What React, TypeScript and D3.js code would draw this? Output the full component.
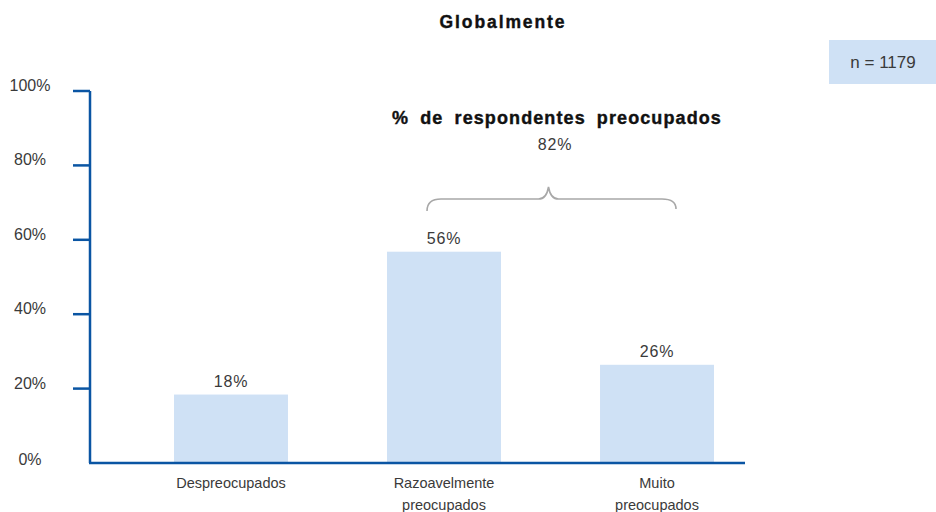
import React from "react";
import * as d3 from "d3";

const categories = ["Despreocupados", "Razoavelmente\npreocupados", "Muito\npreocupados"];
const values = [18.4, 56.8, 26.4];
const valueLabels = ["18%", "56%", "26%"];
const yTicks = [0, 20, 40, 60, 80, 100];
const title = "Globalmente";
const sampleLabel = "n = 1179";
const braceTitle = "% de respondentes preocupados";
const braceValue = "82%";

const W = 936;
const H = 512;
const axisColor = "#0a55a3";
const barColor = "#cfe1f5";
const textColor = "#3a3a3a";
const font = "'Liberation Sans', Arial, Helvetica, sans-serif";

export default function App() {
  const x0 = 90;
  const x1 = 745;
  const y = d3.scaleLinear().domain([0, 100]).range([463, 91]);
  const x = d3.scaleBand<string>().domain(categories).range([67.5, 820.5]).paddingInner(0.465).paddingOuter(0.5);
  const cx = (c: string) => x(c)! + x.bandwidth() / 2;

  // brace spanning categories 2 and 3
  const bl = 427;
  const br = 676;
  const bm = (cx(categories[1]) + cx(categories[2])) / 2 - 2;
  const yb = 199;
  const brace = `M${bl},${yb + 12} Q${bl},${yb} ${bl + 14},${yb} L${bm - 10},${yb} Q${bm - 2},${yb} ${bm},${yb - 12} Q${bm + 2},${yb} ${bm + 10},${yb} L${br - 14},${yb} Q${br},${yb} ${br},${yb + 10}`;

  return (
    <svg width={W} height={H} style={{ position: "absolute", left: 0, top: 0, display: "block" }} fontFamily={font}>
      <rect width={W} height={H} fill="#fff" />
      <text x={503} y={28} textAnchor="middle" fontSize={17.5} fontWeight="bold" letterSpacing={1.9} fill="#111" stroke="#111" strokeWidth={0.4}>
        {title}
      </text>
      <rect x={829} y={40} width={107} height={44} fill={barColor} />
      <text x={883} y={68} textAnchor="middle" fontSize={17} fill={textColor}>
        {sampleLabel}
      </text>

      {categories.map((c, i) => (
        <rect key={c} x={x(c)} y={y(values[i])} width={x.bandwidth()} height={y(0) - y(values[i])} fill={barColor} />
      ))}
      {categories.map((c, i) => (
        <text key={"v" + c} x={cx(c)} y={y(values[i]) - 8} textAnchor="middle" fontSize={16} fill={textColor} letterSpacing={0.8}>
          {valueLabels[i]}
        </text>
      ))}
      {categories.map((c) => (
        <text key={"c" + c} textAnchor="middle" fontSize={14.5} fill={textColor}>
          {c.split("\n").map((line, j) => (
            <tspan key={j} x={cx(c)} y={488 + j * 21.5}>
              {line}
            </tspan>
          ))}
        </text>
      ))}

      <line x1={x0} x2={x0} y1={y(100)} y2={y(0)} stroke={axisColor} strokeWidth={2.5} />
      <line x1={x0 - 1} x2={x1} y1={y(0)} y2={y(0)} stroke={axisColor} strokeWidth={2.5} />
      {yTicks.map((t) => (
        <g key={t}>
          {t > 0 && <line x1={73} x2={x0} y1={y(t)} y2={y(t)} stroke={axisColor} strokeWidth={2.5} />}
          <text x={30} y={y(t) + (t === 0 ? 2 : 0)} textAnchor="middle" fontSize={16} fill={textColor}>
            {t}%
          </text>
        </g>
      ))}

      <text x={557} y={124} textAnchor="middle" fontSize={18} fontWeight="bold" fill="#111" stroke="#111" strokeWidth={0.4} wordSpacing={5} letterSpacing={1.1}>
        {braceTitle}
      </text>
      <text x={555} y={150} textAnchor="middle" fontSize={16} fill={textColor} letterSpacing={0.8}>
        {braceValue}
      </text>
      <path d={brace} fill="none" stroke="#a8a8a8" strokeWidth={1.6} />
    </svg>
  );
}
